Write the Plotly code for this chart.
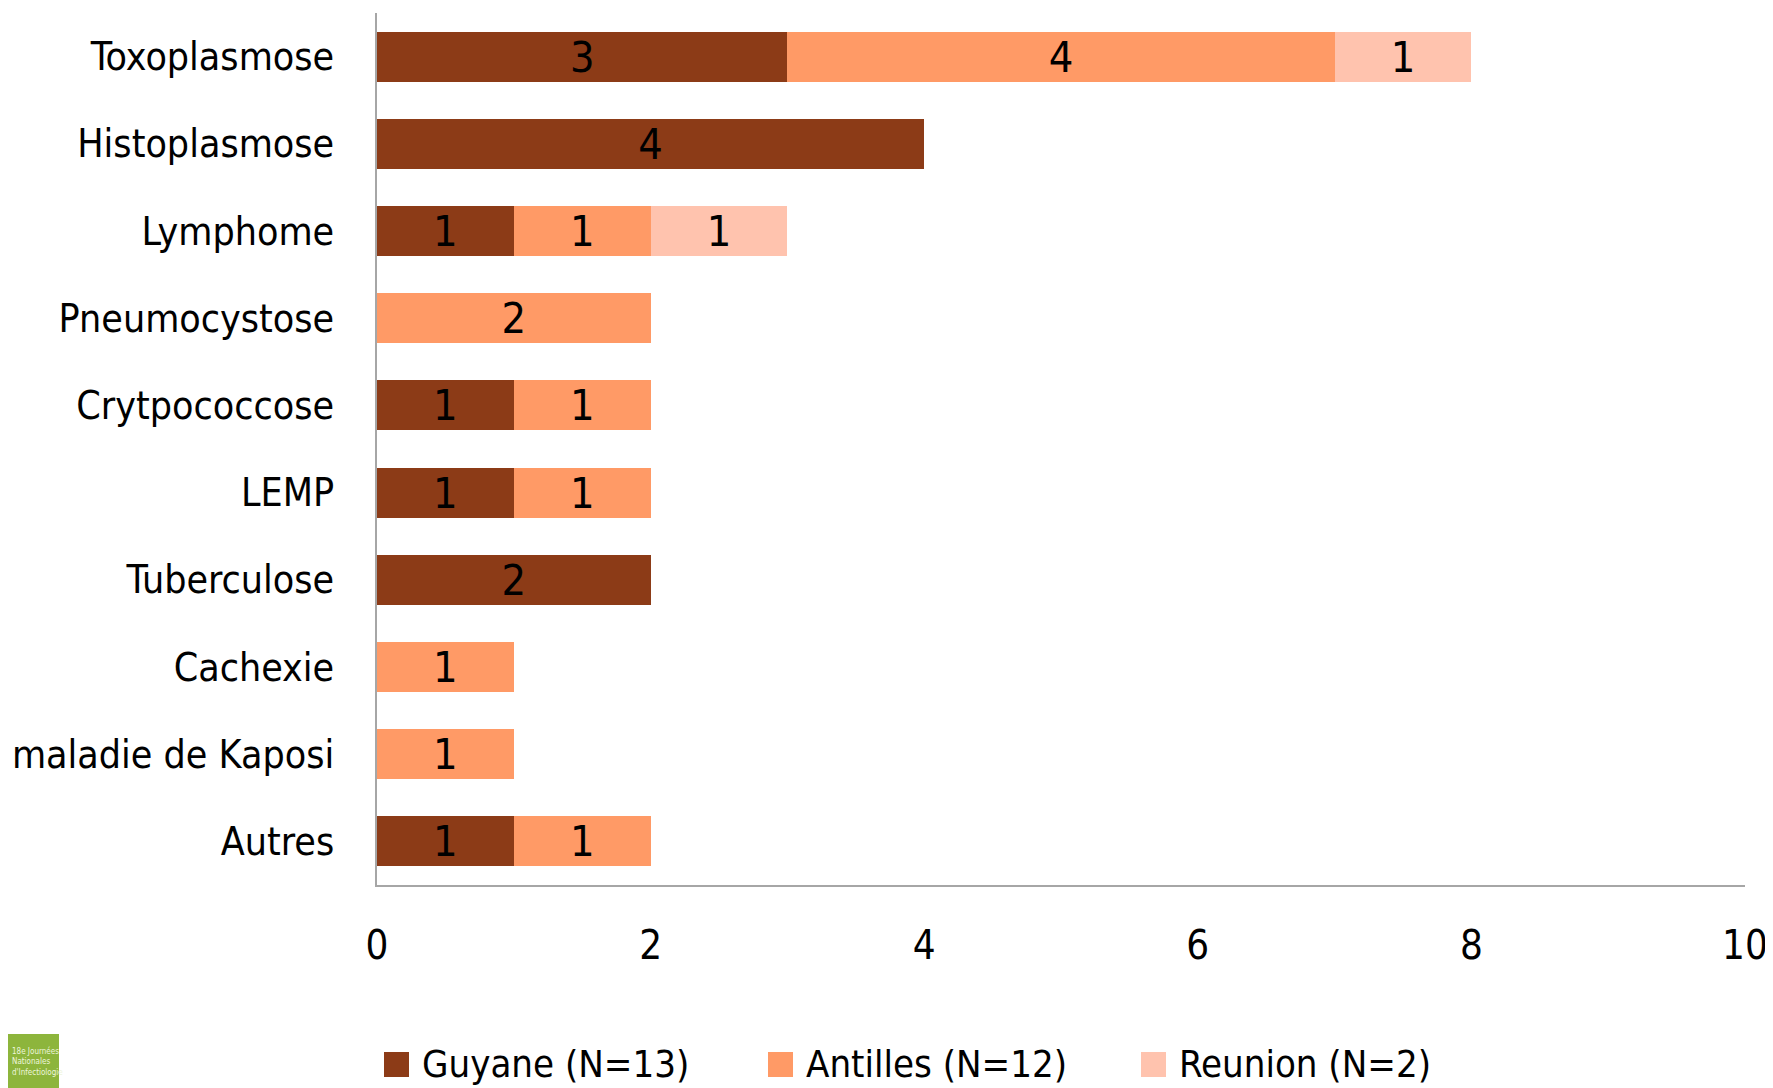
import plotly.graph_objects as go

categories = ["Toxoplasmose", "Histoplasmose", "Lymphome", "Pneumocystose", "Crytpococcose",
              "LEMP", "Tuberculose", "Cachexie", "maladie de Kaposi", "Autres"]
guyane = [3, 4, 1, None, 1, 1, 2, None, None, 1]
antilles = [4, None, 1, 2, 1, 1, None, 1, 1, 1]
reunion = [1, None, 1, None, None, None, None, None, None, None]
series_names = ["Guyane (N=13)", "Antilles (N=12)", "Reunion (N=2)"]
colors = ["#8C3B17", "#FF9A66", "#FFC3AE"]
x_ticks = [0, 2, 4, 6, 8, 10]

FONT = "DejaVu Sans Condensed, Liberation Sans Narrow, sans-serif"

W, H = 1773, 1088
OFF = 8  # page body margin offset of the rendered figure
L, R, T, B = 377 - OFF, 36, 13 - OFF, 211
PW, PH = W - L - R, H - T - B

def px_x(sx):
    # screen x -> paper x
    return (sx - OFF - L) / PW

def px_y(sy):
    # screen y -> paper y
    return (H - B - (sy - OFF)) / PH

fig = go.Figure()
for name, vals, col in zip(series_names, [guyane, antilles, reunion], colors):
    fig.add_trace(go.Bar(
        y=categories, x=vals, name=name, orientation="h",
        marker=dict(color=col, line=dict(width=0)),
        text=[None if v is None else str(v) for v in vals],
        textposition="inside", insidetextanchor="middle", constraintext="none",
        textangle=0,
        textfont=dict(family=FONT, size=43, color="black"),
        showlegend=False,
    ))

fig.update_layout(
    width=W, height=H,
    barmode="stack", bargap=0.427,
    paper_bgcolor="white", plot_bgcolor="white",
    margin=dict(l=L, r=R, t=T, b=B),
    font=dict(family=FONT, size=40, color="black"),
    xaxis=dict(range=[0, 10], tickvals=x_ticks, showgrid=False, zeroline=False,
               showline=True, linecolor="#A6A6A6", linewidth=2, ticks="",
               ticklabelstandoff=24, tickfont=dict(size=40), automargin=False,
               ticklabeloverflow="allow"),
    yaxis=dict(autorange="reversed", showgrid=False, zeroline=False,
               showline=True, linecolor="#A6A6A6", linewidth=2, ticks="",
               ticklabelstandoff=33, tickfont=dict(size=39), automargin=False),
    showlegend=False,
)

# custom legend (large squares like the reference)
legend_sq_x = [384, 768, 1141]
for name, col, sx in zip(series_names, colors, legend_sq_x):
    fig.add_shape(type="rect", xref="paper", yref="paper",
                  x0=px_x(sx), x1=px_x(sx + 25), y0=px_y(1077), y1=px_y(1052),
                  fillcolor=col, line=dict(width=0))
    fig.add_annotation(xref="paper", yref="paper", x=px_x(sx + 36), y=px_y(1064),
                       xanchor="left", yanchor="middle", text=name, showarrow=False,
                       font=dict(size=38, family=FONT, color="black"))

# small logo box bottom-left
fig.add_shape(type="rect", xref="paper", yref="paper",
              x0=px_x(8), x1=px_x(59), y0=px_y(1096), y1=px_y(1034),
              fillcolor="#8DB53C", line=dict(width=0), layer="above")
fig.add_annotation(xref="paper", yref="paper", x=px_x(10), y=px_y(1061),
                   xanchor="left", yanchor="middle",
                   text="18e Journées<br>Nationales<br>d'Infectiologie",
                   showarrow=False, font=dict(size=8, color="#EEF5DD", family=FONT),
                   align="left")

fig.write_html("out.html")
